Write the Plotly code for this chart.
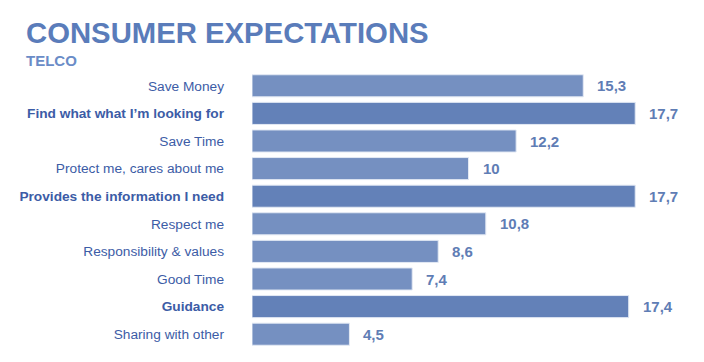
import plotly.graph_objects as go

categories = ["Save Money", "Find what what I’m looking for", "Save Time",
              "Protect me, cares about me", "Provides the information I need",
              "Respect me", "Responsibility & values", "Good Time", "Guidance",
              "Sharing with other"]
values = [15.3, 17.7, 12.2, 10, 17.7, 10.8, 8.6, 7.4, 17.4, 4.5]
highlight = [False, True, False, False, True, False, False, False, True, False]
value_labels = [f"{v:g}".replace(".", ",") for v in values]

LIGHT = "#7590c1"
DARK = "#6381b8"
colors = [DARK if h else LIGHT for h in highlight]
ticktext = [f"<b>{c}</b>" if h else c for c, h in zip(categories, highlight)]

W, H = 688, 346
L, R, T, B = 244, 11, 64, 6
FONT = "Liberation Sans, Arial"

fig = go.Figure()
fig.add_trace(go.Bar(
    y=categories, x=values, orientation="h",
    marker=dict(color=colors, line=dict(color="#e3e9f4", width=1)),
    width=0.8, hoverinfo="skip",
))
for c, v, t in zip(categories, values, value_labels):
    fig.add_annotation(x=v, y=c, text=f"<b>{t}</b>", showarrow=False,
                       xanchor="left", xshift=12,
                       font=dict(family=FONT, size=15, color="#5f7db5"))

plot_h = H - T - B
plot_w = W - L - R
def px_x(px):
    return (px - L) / plot_w
def px_y(py):
    return (H - B - py) / plot_h

fig.add_annotation(x=px_x(16), y=px_y(43), xref="paper", yref="paper",
                   text="<b>CONSUMER EXPECTATIONS</b>", showarrow=False,
                   xanchor="left", yanchor="bottom",
                   font=dict(family=FONT, size=29.3, color="#5a7cba"))
fig.add_annotation(x=px_x(16), y=px_y(63), xref="paper", yref="paper",
                   text="<b>TELCO</b>", showarrow=False,
                   xanchor="left", yanchor="bottom",
                   font=dict(family=FONT, size=15, color="#6a8cc7"))

fig.update_layout(
    width=W, height=H,
    margin=dict(l=L, r=R, t=T, b=B, autoexpand=False),
    paper_bgcolor="white", plot_bgcolor="white",
    showlegend=False,
    font=dict(family=FONT, color="#4466aa"),
)
fig.update_xaxes(range=[0, 20], visible=False, fixedrange=True)
fig.update_yaxes(autorange="reversed", tickmode="array", tickvals=categories,
                 ticktext=ticktext, ticks="", showgrid=False, showline=False,
                 ticklabelstandoff=27, fixedrange=True,
                 tickfont=dict(family=FONT, size=13.7, color="#3c5ca6"))

fig.write_html("out.html", config={"displayModeBar": False})
